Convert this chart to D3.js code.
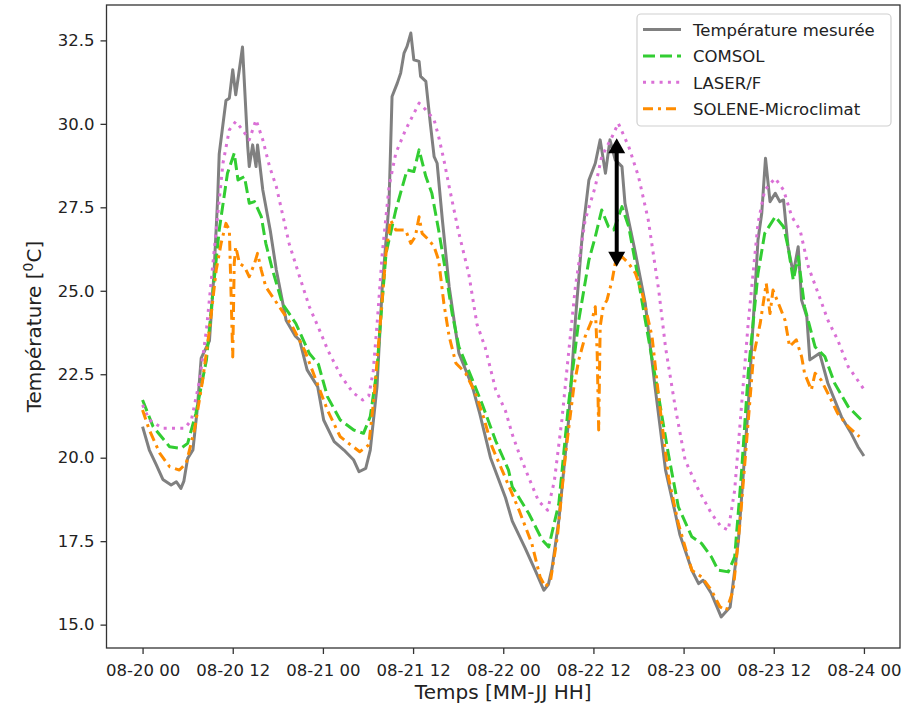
<!DOCTYPE html>
<html>
<head>
<meta charset="utf-8">
<script src="https://cdn.jsdelivr.net/npm/d3@7/dist/d3.min.js"></script>
<style>
  html, body { margin: 0; padding: 0; background: #fff; }
  svg { display: block; font-family: "DejaVu Sans", sans-serif; }
</style>
</head>
<body>
<svg id="chart" width="915" height="708"></svg>
<script>
// ---- Data (hours since 08-20 00:00, temperature in °C) ----
const measuredHours = [0,0.9,1.8,2.7,3.8,4.5,5.1,5.5,6.0,6.7,7.3,7.8,8.9,9.5,10.0,10.2,11.1,11.55,12.0,12.4,12.8,13.3,14.0,14.2,14.65,15.1,15.3,16.0,17.0,17.8,19.1,20.3,20.9,21.9,23.3,24.1,25.5,26.8,28.1,28.8,29.7,30.3,31.2,31.9,32.8,33.2,33.9,34.35,34.8,35.2,35.7,36.1,36.8,37.0,37.7,38.3,38.8,39.2,39.9,40.8,42.1,43.9,44.9,46.3,48.3,49.2,50.9,52.3,53.4,54.0,54.5,55.4,56.7,57.6,58.5,59.4,60.25,60.9,61.6,62.2,62.9,63.8,64.2,65.6,66.9,68.2,69.6,70.9,71.5,73.1,74.0,74.6,75.7,77.0,78.2,79.3,80.6,81.9,82.4,82.9,83.5,84.2,84.8,85.3,85.9,86.6,87.25,87.7,88.4,88.8,90.1,91.2,93.0,94.3,95.2,96.0];
const measuredTemps = [20.93,20.23,19.8,19.35,19.18,19.28,19.08,19.3,19.98,20.23,21.5,22.98,23.5,25.5,27.8,29.1,30.7,30.77,31.62,30.87,31.5,32.3,29.3,28.72,29.37,28.72,29.37,28.02,26.8,25.62,24.12,23.65,23.52,22.63,22.13,21.13,20.48,20.23,19.93,19.58,19.68,20.23,22.13,25.12,27.62,30.82,31.22,31.52,32.12,32.32,32.72,31.92,31.87,31.42,31.27,30.0,29.02,28.82,27.12,25.12,23.13,22.13,21.3,20.0,18.8,18.1,17.3,16.6,16.03,16.2,16.7,18.13,21.13,24.12,26.62,28.32,28.82,29.52,28.52,29.52,28.92,28.72,27.62,26.12,24.62,22.12,19.63,18.33,17.7,16.63,16.23,16.33,15.93,15.23,15.53,17.53,21.53,26.52,27.32,28.97,27.67,27.92,27.67,27.72,26.32,25.52,26.32,24.72,24.22,22.93,23.13,22.23,21.23,20.73,20.33,20.05];

const comsolHours = [0,1.4,3.6,5.1,6.0,7.1,8.5,9.3,10.2,11.3,12.2,12.7,13.56,14.2,14.9,15.8,16.4,17.3,18.6,20.4,22.2,23.4,24.6,26.3,28.1,29.4,30.3,31.2,31.5,32.4,33.7,35.2,36.1,36.8,37.7,38.5,39.4,40.3,41.2,42.1,43.9,45.2,47.0,48.7,49.2,51.4,53.2,54.05,55.4,56.7,58.05,59.4,60.25,61.1,62.0,62.7,63.8,64.7,65.6,66.9,68.4,70.0,71.3,73.1,74.4,75.7,76.6,77.95,78.8,79.7,80.6,81.9,82.8,84.2,85.3,85.9,86.6,87.25,88.1,89.5,90.8,92.1,93.9,96.0];
const comsolTemps = [21.73,20.93,20.33,20.28,20.43,21.33,22.93,24.82,26.82,28.52,29.12,28.32,28.42,27.62,27.67,27.22,26.42,25.62,24.62,24.02,23.12,22.8,21.83,21.13,20.83,20.73,21.23,22.63,23.6,26.12,27.42,28.62,28.57,29.22,28.42,27.92,26.82,25.62,24.32,23.32,22.33,21.6,20.5,19.63,19.13,18.33,17.53,17.33,18.63,21.63,24.12,25.92,26.62,27.42,26.92,26.82,27.52,26.92,25.82,24.12,22.2,20.08,18.53,17.63,17.43,17.03,16.63,16.58,17.03,19.53,22.53,25.52,26.72,27.22,26.92,26.32,25.32,26.02,24.52,23.32,23.03,22.23,21.53,21.05];

const laserHours = [0,0.9,2.7,4.5,5.6,6.5,7.6,8.5,9.8,10.7,11.55,12.4,13.3,14.2,15.1,16.0,16.9,17.8,18.6,19.5,20.9,22.2,23.4,24.7,26.4,28.0,29.3,30.1,30.7,31.25,31.9,32.8,33.7,35.0,35.9,36.8,37.7,38.8,39.4,40.1,40.8,42.1,43.4,44.5,45.6,47.0,48.3,49.2,50.1,51.4,52.7,53.9,54.8,55.8,56.5,57.6,58.9,60.25,61.1,62.5,63.3,64.7,66.0,67.3,68.7,69.6,70.9,72.2,74.0,75.7,77.0,77.95,78.8,79.7,80.6,81.9,82.8,84.2,85.3,86.4,87.5,88.6,89.9,91.2,92.5,93.9,96.0];
const laserTemps = [21.58,21.13,20.88,20.88,20.88,21.13,22.33,23.83,26.82,28.82,29.82,30.07,29.82,29.52,30.12,29.52,28.72,28.12,27.32,26.42,25.42,24.52,23.9,23.2,22.45,21.95,21.73,21.85,22.6,24.12,26.12,28.12,29.12,29.82,30.22,30.62,30.42,30.12,29.62,28.92,28.12,26.72,25.52,24.0,23.3,22.03,21.4,20.7,20.13,19.4,18.7,18.43,19.3,21.13,22.7,25.12,27.12,28.12,29.02,29.62,30.02,29.32,28.42,27.12,25.0,23.3,21.5,19.93,19.03,18.33,17.93,17.83,19.03,21.53,24.03,27.02,28.02,28.37,28.02,27.22,26.82,25.72,24.93,24.12,23.53,22.73,22.05];

const soleneHours = [0,0.9,2.3,3.6,4.9,5.8,6.9,8.0,8.9,9.8,10.45,11.1,11.55,12.0,12.2,12.4,12.9,13.56,14.2,14.9,15.3,15.8,16.4,17.3,18.2,19.1,19.9,21.6,22.9,24.6,26.3,27.6,28.9,30.1,30.8,31.7,32.4,33.0,33.7,35.0,35.7,36.3,36.8,37.2,38.1,38.8,39.4,40.1,40.8,41.7,43.0,44.3,45.4,46.5,47.9,50.1,51.8,52.9,53.6,54.3,55.2,56.3,57.4,58.05,58.9,59.8,60.25,60.5,60.7,60.9,61.3,61.8,62.5,62.9,63.8,64.7,65.6,66.5,67.8,68.7,70.0,71.3,73.1,74.4,75.7,76.85,77.7,78.6,79.5,80.4,81.3,82.2,83.0,83.5,83.9,84.8,85.5,86.1,87.0,87.7,88.1,89.0,89.5,90.3,91.2,92.5,93.9,95.4];
const soleneTemps = [21.43,20.83,20.13,19.73,19.63,19.83,20.83,22.33,23.83,25.62,26.42,27.02,26.82,23.02,25.82,26.32,25.82,25.72,25.42,25.82,26.12,25.62,25.12,24.82,24.52,24.22,23.95,23.2,22.43,21.43,20.63,20.4,20.18,20.38,21.8,24.2,26.12,27.12,26.82,26.82,26.42,26.62,27.22,26.72,26.52,26.32,25.92,24.62,23.63,22.83,22.53,21.93,21.2,20.33,19.6,18.43,17.43,16.43,16.13,16.33,17.63,20.13,22.13,22.93,23.63,24.12,24.52,23.13,20.83,23.93,24.52,24.72,25.32,25.82,26.02,25.82,25.52,24.92,23.63,21.8,19.4,18.03,16.63,16.43,16.03,15.53,15.43,16.03,18.03,20.53,23.03,24.03,25.22,24.32,25.02,24.52,24.12,23.33,23.53,23.03,22.53,22.03,22.53,22.33,21.93,21.33,20.93,20.63];

const seriesNames = ["Température mesurée", "COMSOL", "LASER/F", "SOLENE-Microclimat"];
const yTickValues = [15.0, 17.5, 20.0, 22.5, 25.0, 27.5, 30.0, 32.5];
// Annotation arrow (hour, top temp, bottom temp)
const arrowHour = 63.1, arrowTop = 29.57, arrowBottom = 25.72;

// ---- Setup ----
const startMs = Date.UTC(2020, 7, 20, 0, 0);
const toDate = h => new Date(startMs + h * 3600e3);

const mLeft = 106.5, mRight = 900, mTop = 5, mBottom = 648;
const svg = d3.select("#chart");
svg.append("rect").attr("width", 915).attr("height", 708).attr("fill", "#fff");

const x = d3.scaleUtc().domain([toDate(-4.8), toDate(100.8)]).range([mLeft, mRight]);
const y = d3.scaleLinear().domain([14.3, 33.56]).range([mBottom, mTop]);

const series = [
  { name: seriesNames[0], hours: measuredHours, temps: measuredTemps, color: "#808080", dash: null },
  { name: seriesNames[1], hours: comsolHours, temps: comsolTemps, color: "#32CD32", dash: "12,5" },
  { name: seriesNames[2], hours: laserHours, temps: laserTemps, color: "#DA70D6", dash: "3,5.3" },
  { name: seriesNames[3], hours: soleneHours, temps: soleneTemps, color: "#FF8C00", dash: "10,5,3,5" }
];

const line = d3.line().x(d => x(d[0])).y(d => y(d[1]));
const plot = svg.append("g");
series.forEach(s => {
  const pts = s.hours.map((h, i) => [toDate(h), s.temps[i]]);
  plot.append("path")
    .datum(pts)
    .attr("d", line)
    .attr("fill", "none")
    .attr("stroke", s.color)
    .attr("stroke-width", 3)
    .attr("stroke-linejoin", "round")
    .attr("stroke-dasharray", s.dash);
});

// ---- Arrow annotation ----
const ax = x(toDate(arrowHour));
const yTop = y(arrowTop), yBot = y(arrowBottom);
const headH = 15, headW = 8.5;
const ann = svg.append("g");
ann.append("line").attr("x1", ax).attr("x2", ax).attr("y1", yTop + headH - 2).attr("y2", yBot - headH + 2)
  .attr("stroke", "#000").attr("stroke-width", 4);
ann.append("path").attr("d", `M${ax},${yTop} L${ax - headW},${yTop + headH} L${ax + headW},${yTop + headH} Z`).attr("fill", "#000");
ann.append("path").attr("d", `M${ax},${yBot} L${ax - headW},${yBot - headH} L${ax + headW},${yBot - headH} Z`).attr("fill", "#000");

// ---- Axes ----
const axisColor = "#333";
const xAxis = d3.axisBottom(x)
  .ticks(d3.utcHour.every(12))
  .tickFormat(d3.utcFormat("%m-%d %H"))
  .tickSize(6).tickPadding(6);
const gx = svg.append("g").attr("transform", `translate(0,${mBottom})`).call(xAxis);
gx.select(".domain").remove();
gx.selectAll(".tick line").attr("stroke", axisColor).attr("stroke-width", 1.3);
gx.selectAll(".tick text").attr("fill", "#222").attr("font-size", 16.5).attr("font-family", "DejaVu Sans").attr("dy", "0.95em");

const yAxis = d3.axisLeft(y).tickValues(yTickValues).tickFormat(d3.format(".1f")).tickSize(6).tickPadding(6);
const gy = svg.append("g").attr("transform", `translate(${mLeft},0)`).call(yAxis);
gy.select(".domain").remove();
gy.selectAll(".tick line").attr("stroke", axisColor).attr("stroke-width", 1.3);
gy.selectAll(".tick text").attr("fill", "#222").attr("font-size", 16.5).attr("font-family", "DejaVu Sans");

// Frame
svg.append("rect").attr("x", mLeft).attr("y", mTop).attr("width", mRight - mLeft).attr("height", mBottom - mTop)
  .attr("fill", "none").attr("stroke", axisColor).attr("stroke-width", 1.3);

// Axis labels
svg.append("text").attr("x", (mLeft + mRight) / 2).attr("y", 699).attr("text-anchor", "middle")
  .attr("font-size", 20).attr("fill", "#222").text("Temps [MM-JJ HH]");
const yl = svg.append("text").attr("transform", `translate(41,${(mTop + mBottom) / 2}) rotate(-90)`)
  .attr("text-anchor", "middle").attr("font-size", 20).attr("fill", "#222");
yl.append("tspan").text("Température [");
yl.append("tspan").attr("font-size", 14).attr("dy", -8).text("0");
yl.append("tspan").attr("dy", 8).text("C]");

// ---- Legend ----
const lg = svg.append("g");
lg.append("rect").attr("x", 637).attr("y", 14).attr("width", 254).attr("height", 112).attr("rx", 4)
  .attr("fill", "#fff").attr("fill-opacity", 0.8).attr("stroke", "#d0d0d0").attr("stroke-width", 1.2);
series.forEach((s, i) => {
  const cy = 29.5 + i * 26.4;
  lg.append("line").attr("x1", 643).attr("x2", 681).attr("y1", cy).attr("y2", cy)
    .attr("stroke", s.color).attr("stroke-width", 3).attr("stroke-dasharray", s.dash);
  lg.append("text").attr("x", 693).attr("y", cy + 6.5).attr("font-size", 16.5).attr("fill", "#222").text(s.name);
});
</script>
</body>
</html>
